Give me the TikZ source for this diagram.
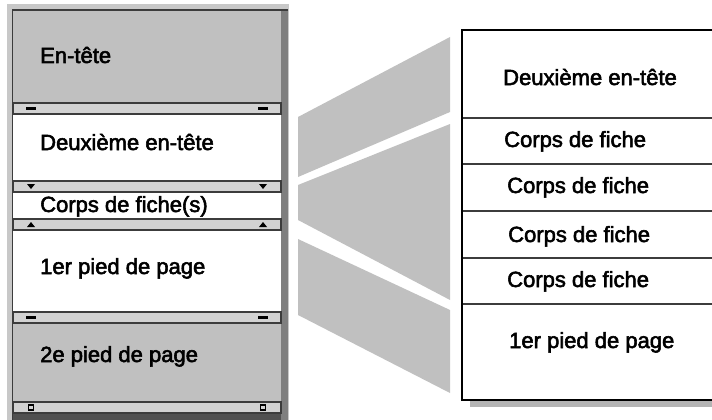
\documentclass[tikz,border=0pt]{standalone}
\usepackage{fontspec}
\setmainfont{Liberation Sans}
\newfontfamily\etatfont{Liberation Sans}[FakeBold=2.5]
\usetikzlibrary{positioning}
\definecolor{sectgris}{HTML}{C0C0C0}
\definecolor{bandgris}{HTML}{D2D2D2}
\definecolor{cadreclair}{HTML}{C8C8C8}
\definecolor{cadrefonce}{HTML}{7F7F7F}
\definecolor{traitfonce}{HTML}{3C3C3C}
\definecolor{fondbas}{HTML}{505050}
\definecolor{ombre}{HTML}{B4B4B4}
\tikzset{
  % texte des sections
  lbl/.style={font=\etatfont\fontsize{22}{26}\selectfont, anchor=base west, inner sep=0pt},
  % bande de separation entre sections
  band/.style={fill=bandgris, draw=traitfonce, line width=1.3pt},
  % lignes du resultat
  rowline/.style={draw=traitfonce, line width=1.2pt},
  % liaison grise entre les deux vues
  funnel/.style={fill=sectgris},
  % marqueurs des bandes
  tiret/.pic={\fill[black] (-5,-1.3) rectangle (5,1.3);},
  basfl/.pic={\fill[black] (-4,-2.5) -- (4,-2.5) -- (0,2.5) -- cycle;},
  hautfl/.pic={\fill[black] (-4,2.5) -- (4,2.5) -- (0,-2.5) -- cycle;},
  carre/.pic={\draw[black, line width=1.3pt] (-2.6,-2.6) rectangle (2.6,2.6);},
}
\newcommand{\bande}[2]{%
  \filldraw[band] (13,#1) rectangle (281,{#1+11});
  \pic at (31,{#1+5.5}) {#2};
  \pic at (263,{#1+5.5}) {#2};
}

\begin{document}
\begin{tikzpicture}[x=1pt, y=-1pt]
  \useasboundingbox (0,0) rectangle (712,420);
  % cadre de la vue creation
  \fill[cadreclair] (7,4) rectangle (289,420);
  \fill[cadrefonce] (281,10) rectangle (288,420);
  \fill[sectgris] (13,11) rectangle (281,103);
  \fill[white] (13,114) rectangle (281,181);
  \fill[white] (13,192) rectangle (281,219);
  \fill[white] (13,230) rectangle (281,312);
  \fill[sectgris] (13,323) rectangle (281,402);
  \fill[fondbas] (13,413) rectangle (281,420);
  \bande{103}{tiret}
  \bande{181}{basfl}
  \bande{219}{hautfl}
  \bande{312}{tiret}
  \bande{402}{carre}
  \draw[traitfonce, line width=1.6pt] (12.5,420) -- (12.5,10) -- (288,10);
  \node[lbl] (lentete) at (40,63) {En-tête};
  \node[lbl] (ldeux) at (40,150) {Deuxième en-tête};
  \node[lbl] (lcorps) at (40,212) {Corps de fiche(s)};
  \node[lbl] (lpied1) at (40,274) {1er pied de page};
  \node[lbl] (lpied2) at (40,362) {2e pied de page};
  % liaisons
  \fill[funnel] (298,117) -- (450,37) -- (450,112) -- (298,177) -- cycle;
  \fill[funnel] (298,185) -- (450,124) -- (450,300) -- (298,220) -- cycle;
  \fill[funnel] (298,239) -- (450,310) -- (450,393) -- (298,315) -- cycle;
  % vue du resultat
  \fill[ombre] (470,401) rectangle (712,407);
  \draw[black, line width=2pt] (712,30) -| (462,400) -- (712,400);
  \foreach \y in {118,164,211,258,304}
    \draw[rowline] (463,\y) -- (712,\y);
  \node[lbl] (rdeux) at (503,85) {Deuxième en-tête};
  \node[lbl] (rcorpsa) at (504,147) {Corps de fiche};
  \node[lbl] (rcorpsb) at (507,193) {Corps de fiche};
  \node[lbl] (rcorpsc) at (508,242) {Corps de fiche};
  \node[lbl] (rcorpsd) at (507,287) {Corps de fiche};
  \node[lbl] (rpied) at (509,348) {1er pied de page};
\end{tikzpicture}
\end{document}
